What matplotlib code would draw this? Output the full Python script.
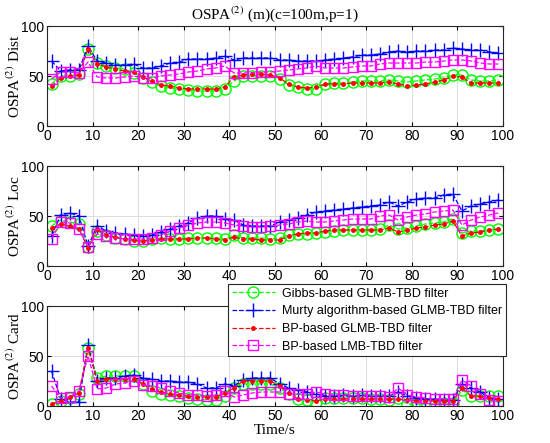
"""
OSPA(2) comparison of the four TBD filters (dist / loc / card)
"""
import matplotlib
matplotlib.use("Agg")
import matplotlib.pyplot as plt
import numpy as np

plt.rcParams["mathtext.fontset"] = "stix"

time_steps = np.arange(1, 100, 2)

labels = ["Gibbs-based GLMB-TBD filter",
          "Murty algorithm-based GLMB-TBD filter",
          "BP-based GLMB-TBD filter",
          "BP-based LMB-TBD filter"]

# OSPA(2) Dist
gibbs_dist = [42, 50, 50, 52, 77, 63, 60, 58, 57, 53, 48, 44, 40, 38, 37, 36, 35, 35, 35, 37,
              45, 50, 50, 50, 50, 47, 41, 39, 37, 37, 42, 43, 43, 44, 45, 45, 45, 46, 45, 44,
              45, 46, 47, 48, 51, 51, 46, 45, 45, 46]
murty_dist = [65, 55, 56, 56, 80, 65, 63, 61, 61, 62, 58, 58, 60, 63, 64, 67, 67, 67, 68, 70,
              66, 68, 68, 68, 68, 66, 66, 65, 65, 65, 66, 67, 68, 69, 71, 71, 72, 74, 75, 74,
              75, 75, 76, 76, 78, 77, 76, 76, 74, 73]
bp_glmb_dist = [40, 48, 50, 51, 77, 62, 59, 57, 55, 54, 49, 45, 41, 40, 38, 37, 37, 37, 37, 39,
                49, 51, 52, 52, 51, 48, 42, 39, 38, 39, 42, 42, 42, 43, 43, 43, 43, 44, 42, 40,
                41, 42, 44, 46, 50, 49, 43, 43, 43, 43]
bp_lmb_dist = [47, 54, 54, 53, 64, 49, 48, 48, 49, 50, 48, 48, 50, 51, 52, 54, 55, 57, 58, 60,
               53, 53, 53, 54, 54, 55, 56, 57, 58, 60, 58, 58, 58, 59, 60, 60, 62, 63, 63, 63,
               63, 64, 64, 65, 66, 66, 65, 63, 62, 62]

# OSPA(2) Loc
gibbs_loc = [40, 46, 44, 42, 19, 35, 31, 28, 27, 25, 25, 27, 28, 27, 27, 28, 28, 28, 28, 27,
             31, 28, 28, 28, 27, 28, 31, 32, 32, 33, 34, 35, 36, 36, 36, 36, 37, 41, 37, 38,
             40, 42, 43, 44, 47, 33, 35, 35, 36, 37]
murty_loc = [30, 51, 53, 50, 20, 40, 35, 33, 32, 31, 30, 31, 34, 37, 40, 43, 48, 50, 50, 47,
             46, 41, 40, 40, 40, 44, 46, 48, 51, 54, 55, 56, 57, 58, 59, 60, 61, 64, 60, 64,
             67, 68, 68, 71, 72, 55, 60, 62, 64, 66]
bp_glmb_loc = [38, 42, 40, 37, 18, 37, 31, 29, 27, 26, 25, 26, 27, 27, 27, 27, 28, 28, 27, 26,
               29, 27, 27, 26, 26, 26, 30, 32, 33, 33, 35, 36, 36, 36, 36, 36, 36, 38, 34, 36,
               38, 39, 41, 42, 45, 30, 33, 34, 36, 37]
bp_lmb_loc = [27, 44, 43, 37, 19, 32, 30, 28, 27, 27, 27, 28, 31, 35, 38, 41, 43, 44, 44, 43,
              41, 40, 39, 39, 40, 41, 42, 44, 45, 44, 44, 45, 46, 47, 47, 47, 50, 51, 46, 49,
              51, 52, 54, 55, 56, 41, 46, 49, 51, 53]

# OSPA(2) Card
gibbs_card = [2, 5, 8, 12, 58, 28, 30, 30, 30, 30, 22, 15, 12, 11, 10, 8, 7, 6, 6, 10,
              18, 22, 22, 22, 22, 18, 12, 7, 6, 4, 8, 8, 8, 8, 8, 7, 7, 6, 8, 2,
              2, 2, 2, 3, 3, 16, 10, 10, 10, 10]
murty_card = [35, 7, 4, 4, 61, 25, 28, 28, 30, 31, 28, 27, 25, 25, 24, 24, 22, 18, 18, 22,
              20, 26, 28, 28, 28, 22, 18, 16, 14, 12, 10, 10, 11, 10, 11, 10, 10, 10, 14, 10,
              8, 7, 7, 6, 6, 22, 18, 14, 8, 7]
bp_glmb_card = [2, 5, 9, 13, 58, 25, 27, 27, 27, 27, 22, 17, 14, 12, 11, 10, 9, 9, 9, 13,
                18, 25, 25, 25, 25, 20, 13, 7, 6, 5, 7, 7, 7, 7, 7, 7, 7, 7, 7, 6,
                5, 5, 5, 5, 5, 18, 10, 10, 8, 7]
bp_lmb_card = [20, 8, 9, 15, 50, 17, 18, 22, 23, 25, 21, 20, 18, 15, 13, 11, 11, 10, 11, 15,
               9, 11, 13, 14, 14, 14, 12, 12, 12, 14, 12, 11, 11, 10, 10, 10, 10, 9, 18, 11,
               9, 8, 7, 7, 7, 26, 20, 12, 6, 5]

styles = [dict(color=(0, 1, 0), marker="o", markersize=8, markerfacecolor="none"),
          dict(color=(0, 0, 1), marker="+", markersize=10),
          dict(color=(1, 0, 0), marker=".", markersize=5),
          dict(color=(1, 0, 1), marker="s", markersize=7, markerfacecolor="none")]

serif = "Liberation Serif"
sans = "Liberation Sans"
W, H = 550, 443


def plot_panel(ax, series, ylabel):
    """
        Draws one OSPA(2) component panel in MATLAB style
    """
    lines = []
    for values, style in zip(series, styles):
        line, = ax.plot(time_steps, values, linestyle="--", linewidth=0.9, **style)
        lines.append(line)
    ax.set_xlim(0, 100)
    ax.set_ylim(0, 100)
    ax.set_xticks(range(0, 101, 10))
    ax.set_yticks([0, 50, 100])
    ax.grid(True, color="#dcdcdc", linewidth=0.7)
    ax.set_axisbelow(True)
    ax.tick_params(direction="in", length=3, labelsize=10, pad=2, top=True, right=True)
    for lab in ax.get_xticklabels() + ax.get_yticklabels():
        lab.set_fontfamily(sans)
    for spine in ax.spines.values():
        spine.set_color("#262626")
        spine.set_linewidth(0.8)
    ax.set_ylabel(ylabel, fontfamily=serif, fontsize=11)
    ax.yaxis.set_label_coords(-24 / 456, 0.5)
    return lines


fig = plt.figure(figsize=(5.5, 4.43), dpi=100)
ax1 = fig.add_axes([47 / W, 1 - 126 / H, 456 / W, 100 / H])
ax2 = fig.add_axes([47 / W, 1 - 266 / H, 456 / W, 100 / H])
ax3 = fig.add_axes([47 / W, 1 - 406 / H, 456 / W, 100 / H])

plot_panel(ax1, [gibbs_dist, murty_dist, bp_glmb_dist, bp_lmb_dist], r"OSPA$^{(2)}$ Dist")
plot_panel(ax2, [gibbs_loc, murty_loc, bp_glmb_loc, bp_lmb_loc], r"OSPA$^{(2)}$ Loc")
lines = plot_panel(ax3, [gibbs_card, murty_card, bp_glmb_card, bp_lmb_card], r"OSPA$^{(2)}$ Card")

ax1.set_title(r"OSPA$^{(2)}$ (m)(c=100m,p=1)", fontfamily=serif, fontsize=11, pad=5)
ax3.set_xlabel("Time/s", fontfamily=serif, fontsize=11, labelpad=1)

leg = fig.legend(lines, labels, loc="upper right", bbox_to_anchor=(506 / W, 1 - 284 / H),
                 prop={"family": sans, "size": 9}, frameon=True, fancybox=False,
                 handlelength=3.4, borderpad=0.3, labelspacing=0.45, handletextpad=0.6,
                 borderaxespad=0)
leg.get_frame().set_edgecolor("#262626")
leg.get_frame().set_linewidth(0.8)
leg.get_frame().set_alpha(1)

fig.savefig("out.png", dpi=100)
